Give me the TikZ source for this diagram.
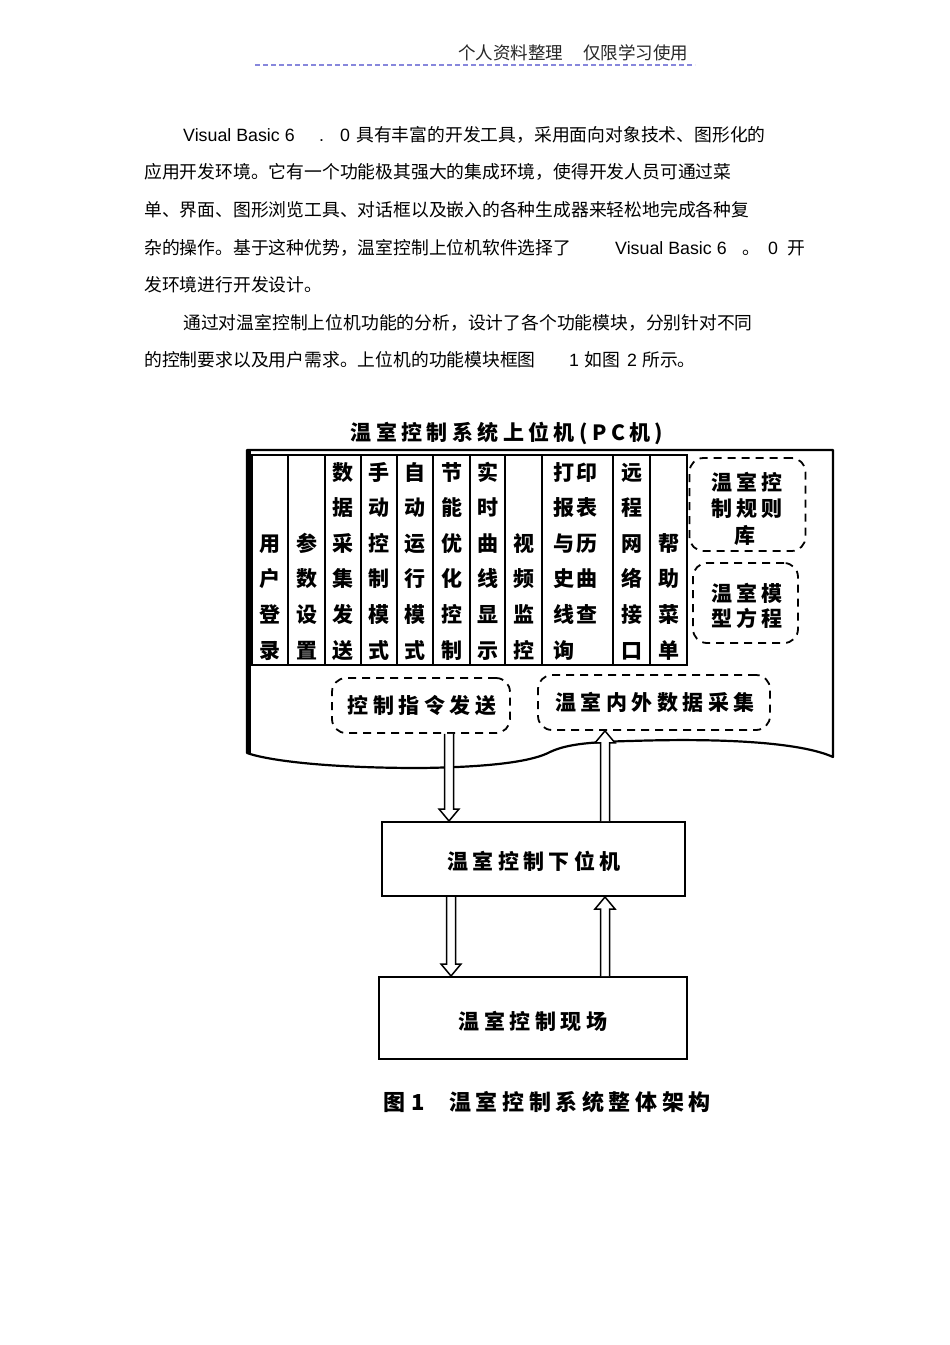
\documentclass[tikz,border=0pt]{standalone}
\usepackage{fontspec}
\setmainfont{Liberation Sans}
\newfontfamily\cjk{Noto Sans CJK SC}
\newfontfamily\cjkw[LetterSpace=21]{Noto Sans CJK SC}
\usetikzlibrary{calc}
\tikzset{
  body/.style={anchor=west, inner sep=0pt, font=\cjk\fontsize{17.8}{20}\selectfont, text height=15.7pt, text depth=2.1pt},
  lat/.style={anchor=west, inner sep=0pt, font=\fontsize{17.8}{20}\selectfont, text height=15.7pt, text depth=2.1pt},
  colch/.style={inner sep=0pt, font=\cjk\bfseries\fontsize{21}{21}\selectfont, text height=18.5pt, text depth=2.5pt},
  wtxt/.style={inner sep=0pt, font=\cjkw\bfseries\fontsize{21}{26}\selectfont, text height=18.5pt, text depth=2.5pt},
  dbox/.style={draw, line width=1.8pt, dash pattern=on 8pt off 6pt, rounded corners=14pt, inner sep=0pt},
  sbox/.style={draw, line width=2pt, inner sep=0pt},
  harrow/.style={draw=black, fill=white, line width=1.5pt, line join=miter},
  colline/.style={line width=1.8pt},
}
\newcommand\colstack[4]{%
  \foreach \ch [count=\j] in {#4} {\node[colch] (#1-\j) at (#2,{472+35.6*(#3+\j-2)}) {\ch};}}
\newcommand\arrdown[2]{%
  \filldraw[harrow] let \p1=(#1), \p2=(#2) in
   (\x1-4.5pt,\y1) -- (\x1-4.5pt,\y2+12pt) -- (\x1-10pt,\y2+12pt) -- (\x1,\y2) -- (\x1+10pt,\y2+12pt) -- (\x1+4.5pt,\y2+12pt) -- (\x1+4.5pt,\y1);}
\newcommand\arrup[2]{%
  \filldraw[harrow] let \p1=(#1), \p2=(#2) in
   (\x1-4.5pt,\y2) -- (\x1-4.5pt,\y1-12pt) -- (\x1-10pt,\y1-12pt) -- (\x1,\y1) -- (\x1+10pt,\y1-12pt) -- (\x1+4.5pt,\y1-12pt) -- (\x1+4.5pt,\y2);}
\begin{document}
\begin{tikzpicture}[x=1pt,y=-1pt]
\useasboundingbox (0,0) rectangle (950,1345);
\fill[white] (0,0) rectangle (950,1345);
% header
\node[body, font=\cjk\fontsize{17.5}{20}\selectfont, text=black!85] (hdr) at (458,53) {个人资料整理\hspace{20pt}仅限学习使用};
\draw[line width=2pt, color={rgb,255:red,135;green,135;blue,220}, dash pattern=on 5pt off 3pt] (255,65) -- (695,65);
% paragraph
\node[lat] (l1a) at (183,135) {Visual Basic 6};
\node[lat] (l1b) at (319,135) {.};
\node[lat] (l1c) at (340,135) {0};
\node[body] (l1d) at (356,135) {具有丰富的开发工具，采用面向对象技术、图形化的};
\node[body] (l2) at (144,172) {应用开发环境。它有一个功能极其强大的集成环境，使得开发人员可通过菜};
\node[body] (l3) at (144,210) {单、界面、图形浏览工具、对话框以及嵌入的各种生成器来轻松地完成各种复};
\node[body] (l4a) at (144,248) {杂的操作。基于这种优势，温室控制上位机软件选择了};
\node[lat] (l4b) at (615,248) {Visual Basic 6};
\node[body] (l4c) at (742,248) {。};
\node[lat] (l4d) at (768,248) {0};
\node[body] (l4e) at (787,248) {开};
\node[body] (l5) at (144,285) {发环境进行开发设计。};
\node[body] (l6) at (183,323) {通过对温室控制上位机功能的分析，设计了各个功能模块，分别针对不同};
\node[body] (l7a) at (144,360) {的控制要求以及用户需求。上位机的功能模块框图};
\node[lat] (l7b) at (569,360) {1};
\node[body] (l7c) at (584,360) {如图};
\node[lat] (l7d) at (627,360) {2};
\node[body] (l7e) at (642,360) {所示。};
% title
\node[wtxt] (title) at (507,432) {温室控制系统上位机(PC机)};
% outer document frame
\draw[line width=2.2pt, line join=round] (247,450) -- (833,450) -- (833,757)
  .. controls (800,742) and (720,738) .. (630,741)
  .. controls (585,742) and (565,745) .. (550,752)
  .. controls (535,760) and (500,767) .. (420,768)
  .. controls (330,768) and (270,761) .. (247,753) -- cycle;
\draw[line width=4pt] (249,450) -- (249,753);
% column box
\draw[colline] (252,455) rectangle (687,665);
\foreach \vx in {288,325,361,397,433,470,505,542,613,650} \draw[colline] (\vx,455) -- (\vx,665);
\colstack{m1}{270}{3}{用,户,登,录}
\colstack{m2}{306.5}{3}{参,数,设,置}
\colstack{m3}{343}{1}{数,据,采,集,发,送}
\colstack{m4}{379}{1}{手,动,控,制,模,式}
\colstack{m5}{415}{1}{自,动,运,行,模,式}
\colstack{m6}{451.5}{1}{节,能,优,化,控,制}
\colstack{m7}{487.5}{1}{实,时,曲,线,显,示}
\colstack{m8}{523.5}{3}{视,频,监,控}
\colstack{m9a}{564}{1}{打,报,与,史,线,询}
\colstack{m9b}{587}{1}{印,表,历,曲,查}
\colstack{m10}{631.5}{1}{远,程,网,络,接,口}
\colstack{m11}{668.5}{3}{帮,助,菜,单}
% right dashed boxes
\node[dbox, minimum width=116pt, minimum height=93pt] (rule) at (747.5,504.5) {};
\node[wtxt, align=center] (rulet1) at (747,482) {温室控};
\node[wtxt, align=center] (rulet2) at (747,508) {制规则};
\node[wtxt, align=center] (rulet3) at (745,535) {库};
\node[dbox, minimum width=105pt, minimum height=80pt] (model) at (745.5,603) {};
\node[wtxt] (modelt1) at (747,593) {温室模};
\node[wtxt] (modelt2) at (747,618) {型方程};
% bottom dashed boxes
\node[dbox, minimum width=178pt, minimum height=55pt] (cmd) at (421,705.5) {};
\node[wtxt] (cmdt) at (422,705) {控制指令发送};
\node[dbox, minimum width=232pt, minimum height=55pt] (acq) at (654,702.5) {};
\node[wtxt] (acqt) at (655,702) {温室内外数据采集};
% lower boxes
\node[sbox, minimum width=303pt, minimum height=74pt] (low) at (533.5,859) {};
\node[wtxt] (lowt) at (534,861) {温室控制下位机};
\node[sbox, minimum width=308pt, minimum height=82pt] (field) at (533,1018) {};
\node[wtxt] (fieldt) at (533,1021) {温室控制现场};
% arrows
\coordinate (xa) at (449,0);
\coordinate (xb) at (605,0);
\coordinate (xc) at (451,0);
\arrdown{cmd.south -| xa}{low.north -| xa}
\arrup{acq.south -| xb}{low.north -| xb}
\arrdown{low.south -| xc}{field.north -| xc}
\arrup{low.south -| xb}{field.north -| xb}
% caption
\node[colch, font=\cjk\bfseries\fontsize{22}{22}\selectfont] (cap1) at (404,1102) {图\hspace{6pt}1};
\node[wtxt, font=\cjkw\bfseries\fontsize{22}{22}\selectfont] (cap2) at (580,1102) {温室控制系统整体架构};
\end{tikzpicture}
\end{document}
